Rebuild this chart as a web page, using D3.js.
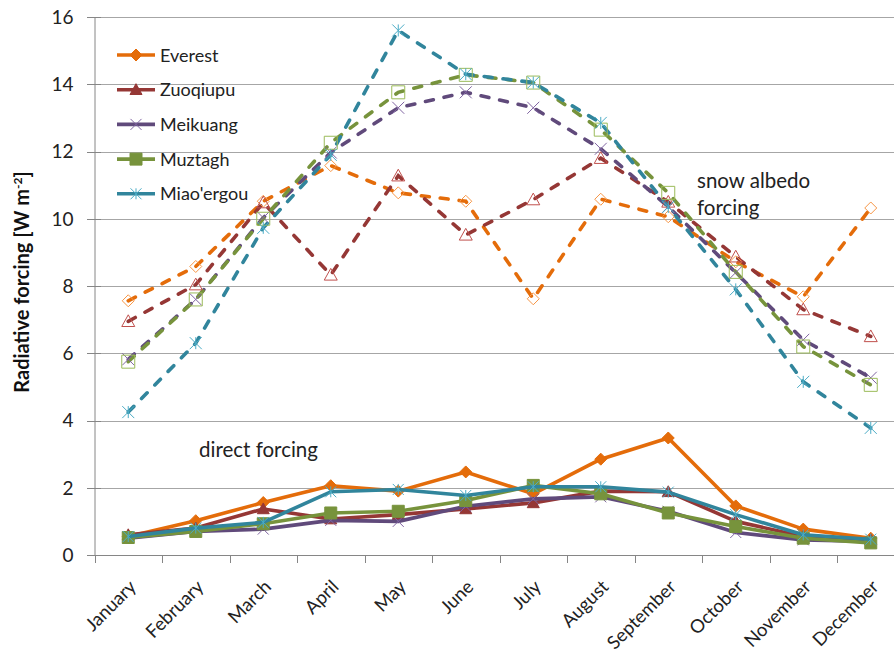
<!DOCTYPE html>
<html><head><meta charset="utf-8">
<script src="https://cdn.jsdelivr.net/npm/d3@7"></script>
<style>
html,body{margin:0;padding:0;background:#fff;}
svg text{font-family:Lato,"Open Sans",sans-serif;}
</style></head>
<body><svg id="c" width="894" height="655"></svg>
<script>
const months = ["January","February","March","April","May","June","July","August","September","October","November","December"];
const seriesNames = ["Everest","Zuoqiupu","Meikuang","Muztagh","Miao'ergou"];
// snow albedo forcing (dashed, open markers)
const albedoEverest   = [7.56,8.58,10.52,11.58,10.77,10.52,7.62,10.58,10.06,8.72,7.68,10.32];
const albedoZuoqiupu  = [6.95,8.04,10.48,8.33,11.28,9.52,10.57,11.8,10.5,8.87,7.3,6.5];
const albedoMeikuang  = [5.82,7.6,10.03,11.97,13.3,13.76,13.3,12.08,10.36,8.4,6.4,5.27];
const albedoMuztagh   = [5.75,7.6,10.0,12.26,13.76,14.28,14.05,12.65,10.77,8.42,6.2,5.06];
const albedoMiaoergou = [4.25,6.3,9.73,11.9,15.6,14.3,14.05,12.85,10.35,7.9,5.15,3.78];
// direct forcing (solid, filled markers)
const directEverest   = [0.55,1.02,1.56,2.06,1.9,2.47,1.82,2.85,3.48,1.46,0.77,0.5];
const directZuoqiupu  = [0.6,0.8,1.37,1.07,1.2,1.37,1.55,1.9,1.88,1.0,0.55,0.45];
const directMeikuang  = [0.5,0.7,0.77,1.03,1.0,1.45,1.67,1.73,1.3,0.67,0.45,0.4];
const directMuztagh   = [0.52,0.7,0.93,1.25,1.3,1.62,2.07,1.82,1.25,0.85,0.5,0.36];
const directMiaoergou = [0.55,0.8,0.97,1.88,1.95,1.77,2.03,2.03,1.87,1.2,0.6,0.47];
const yTicks = [0,2,4,6,8,10,12,14,16];

const lineColors   = ["#E46C0A","#953735","#604A7B","#77933C","#31859C"];
const markerColors = ["#F79646","#C0504D","#8064A2","#9BBB59","#4BACC6"];
const markerTypes  = ["diamond","triangle","x","square","star"];

const albedo = [albedoEverest,albedoZuoqiupu,albedoMeikuang,albedoMuztagh,albedoMiaoergou];
const direct = [directEverest,directZuoqiupu,directMeikuang,directMuztagh,directMiaoergou];

const svg = d3.select("#c");
const x = d3.scaleBand().domain(months).range([94.5,904.5]).padding(0);
const y = d3.scaleLinear().domain([0,16]).range([555,17]);
const cx = m => x(m) + x.bandwidth()/2;

// gridlines
svg.append("g").selectAll("line").data(yTicks.filter(d=>d>0)).join("line")
  .attr("x1",94.5).attr("x2",894).attr("y1",d=>Math.round(y(d))+0.5).attr("y2",d=>Math.round(y(d))+0.5)
  .attr("stroke","#A6A6A6").attr("stroke-width",1);

// y axis
const ya = svg.append("g").attr("transform","translate(94.5,0)")
  .call(d3.axisLeft(y).tickValues(yTicks).tickSize(0).tickPadding(21).tickFormat(d3.format("d")));
ya.select(".domain").attr("stroke","#868686");
ya.selectAll(".tick text").attr("font-size",19).attr("fill","#222").attr("dy","0.34em").style("font-family","Lato,'Open Sans',sans-serif");
svg.append("g").selectAll("line").data(yTicks).join("line")
  .attr("x1",87).attr("x2",101).attr("y1",d=>Math.round(y(d))+0.5).attr("y2",d=>Math.round(y(d))+0.5)
  .attr("stroke","#868686");

// x axis
svg.append("line").attr("x1",94.5).attr("x2",894).attr("y1",555.5).attr("y2",555.5).attr("stroke","#868686");
svg.append("g").selectAll("line").data(months).join("line")
  .attr("x1",d=>Math.round(x(d))+0.5).attr("x2",d=>Math.round(x(d))+0.5)
  .attr("y1",555).attr("y2",563).attr("stroke","#868686");
svg.append("g").selectAll("text").data(months).join("text")
  .attr("transform",d=>`translate(${cx(d)+9},${588}) rotate(-45)`)
  .attr("text-anchor","end").attr("font-size",18.5).attr("fill","#222").text(d=>d);

// y label
const yl = svg.append("text").attr("transform","translate(29,282) rotate(-90)")
  .attr("text-anchor","middle").attr("font-size",20).attr("font-weight","bold").attr("fill","#111");
yl.append("tspan").text("Radiative forcing  [W m");
yl.append("tspan").attr("font-size",12).attr("dy",-7).text("-2");
yl.append("tspan").attr("dy",7).text("]");

function markerPath(type, s){
  const h = s/2;
  switch(type){
    case "diamond": return `M0,${-h}L${h},0L0,${h}L${-h},0Z`;
    case "triangle": return `M0,${-h}L${h},${h*0.8}L${-h},${h*0.8}Z`;
    case "square": return `M${-h},${-h}H${h}V${h}H${-h}Z`;
    case "x": return `M${-h},${-h}L${h},${h}M${h},${-h}L${-h},${h}`;
    case "star": return `M${-h},${-h}L${h},${h}M${h},${-h}L${-h},${h}M0,${-h}V${h}`;
  }
}

const line = d3.line().x((d,i)=>cx(months[i])).y(d=>y(d));

// dashed albedo series
albedo.forEach((vals,k)=>{
  svg.append("path").attr("d",line(vals)).attr("fill","none")
    .attr("stroke",lineColors[k]).attr("stroke-width",3.6).attr("stroke-linecap","round")
    .attr("stroke-dasharray","8,11");
});
albedo.forEach((vals,k)=>{
  const t = markerTypes[k];
  const s = (t==="triangle"||t==="square")?13:12;
  svg.append("g").selectAll("path").data(vals).join("path")
    .attr("transform",(d,i)=>`translate(${cx(months[i])},${y(d)})`)
    .attr("d",markerPath(t,s)).attr("fill","none")
    .attr("stroke",markerColors[k]).attr("stroke-width",1);
});

// solid direct series
direct.forEach((vals,k)=>{
  svg.append("path").attr("d",line(vals)).attr("fill","none")
    .attr("stroke",lineColors[k]).attr("stroke-width",3.6).attr("stroke-linejoin","round");
  const t = markerTypes[k];
  const filled = (t==="diamond"||t==="triangle"||t==="square");
  svg.append("g").selectAll("path").data(vals).join("path")
    .attr("transform",(d,i)=>`translate(${cx(months[i])},${y(d)})`)
    .attr("d",markerPath(t, filled?12:11))
    .attr("fill",filled?lineColors[k]:"none")
    .attr("stroke",filled?lineColors[k]:markerColors[k]).attr("stroke-width",1);
});

// legend
const lg = svg.append("g");
seriesNames.forEach((n,k)=>{
  const ly = 55 + k*34.7;
  lg.append("line").attr("x1",117).attr("x2",155).attr("y1",ly).attr("y2",ly)
    .attr("stroke",lineColors[k]).attr("stroke-width",3.6);
  const t = markerTypes[k];
  const filled = (t==="diamond"||t==="triangle"||t==="square");
  lg.append("path").attr("transform",`translate(136,${ly})`).attr("d",markerPath(t, filled?12:11))
    .attr("fill",filled?lineColors[k]:"none").attr("stroke",filled?lineColors[k]:markerColors[k]);
  lg.append("text").attr("x",160).attr("y",ly+6.5).attr("font-size",18).attr("fill","#222").text(n);
});

// annotations
svg.append("text").attr("x",697).attr("y",188).attr("font-size",20.5).attr("fill","#222").text("snow albedo");
svg.append("text").attr("x",697).attr("y",215).attr("font-size",20.5).attr("fill","#222").text("forcing");
svg.append("text").attr("x",199).attr("y",457).attr("font-size",20.5).attr("fill","#222").text("direct forcing");
</script></body></html>
